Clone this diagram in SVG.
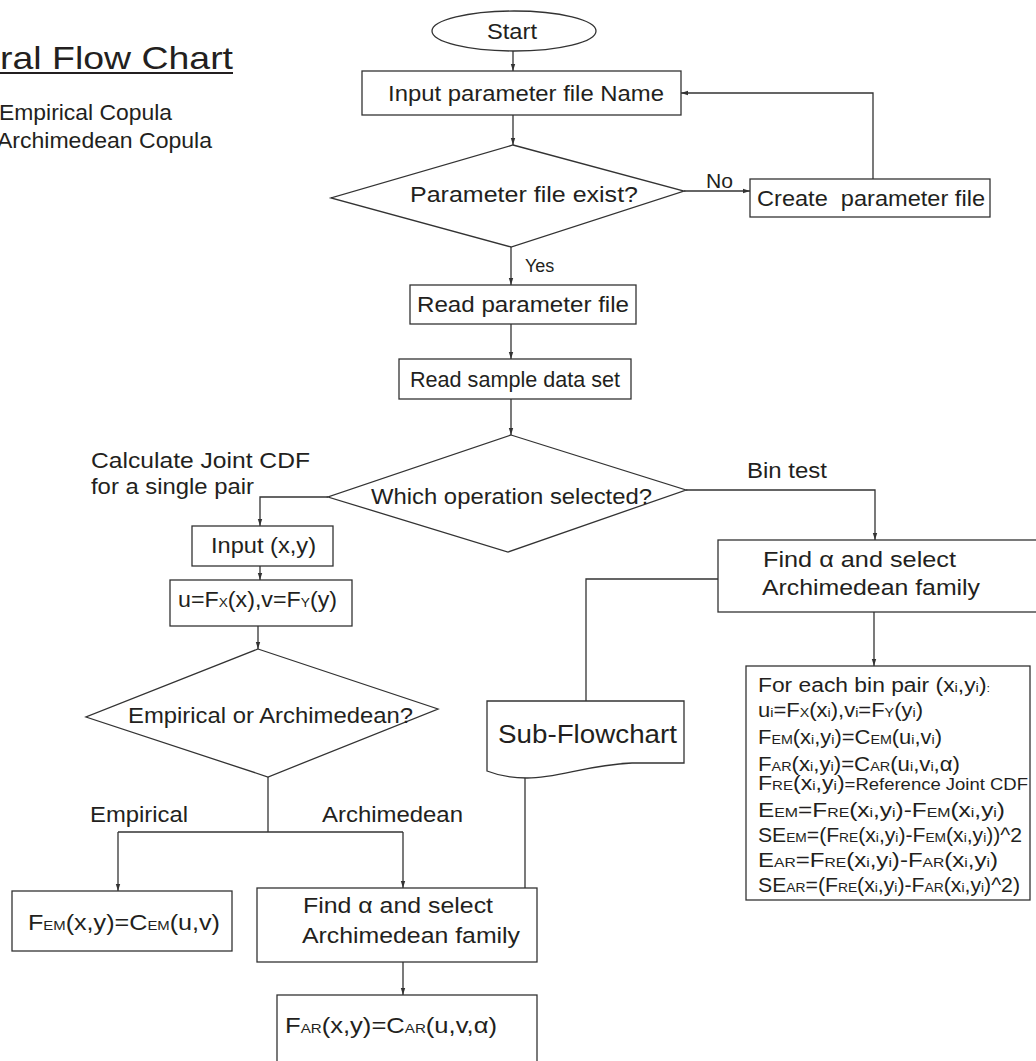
<svg xmlns="http://www.w3.org/2000/svg" width="1036" height="1061" viewBox="0 0 1036 1061">
<style>
text { font-family: "Liberation Sans", Arial, sans-serif; fill: #231f20; }
.t { font-size: 22px; }
.m { font-size: 20px; }
.s { font-size: 13px; }
.shape { fill: #fff; stroke: #333; stroke-width: 1.3; }
.conn { fill: none; stroke: #333; stroke-width: 1.3; }
</style>
<defs>
<marker id="ah" markerUnits="userSpaceOnUse" markerWidth="8" markerHeight="6" refX="7" refY="3" orient="auto"><path d="M0,0.8 L7,3 L0,5.2 z" fill="#333"/></marker>
</defs>
<rect width="1036" height="1061" fill="#fff"/>

<g id="title">
<text x="0" y="69" style="font-size:32px" textLength="233" lengthAdjust="spacingAndGlyphs">ral Flow Chart</text>
<line x1="0" y1="73" x2="233" y2="73" stroke="#231f20" stroke-width="2"/>
<text x="-1" y="120" class="t" textLength="173" lengthAdjust="spacingAndGlyphs">Empirical Copula</text>
<text x="-3" y="148" class="t" textLength="215" lengthAdjust="spacingAndGlyphs">Archimedean Copula</text>
</g>

<g id="connectors">
<path class="conn" d="M513,50 V71" marker-end="url(#ah)"/>
<path class="conn" d="M513,115 V145" marker-end="url(#ah)"/>
<path class="conn" d="M684,191 H750" marker-end="url(#ah)"/>
<path class="conn" d="M873,179 V93 H681" marker-end="url(#ah)"/>
<path class="conn" d="M511,247 V285" marker-end="url(#ah)"/>
<path class="conn" d="M511,324 V359" marker-end="url(#ah)"/>
<path class="conn" d="M511,399 V435" marker-end="url(#ah)"/>
<path class="conn" d="M328,497 H260 V526" marker-end="url(#ah)"/>
<path class="conn" d="M260,566 V580" marker-end="url(#ah)"/>
<path class="conn" d="M258,626 V649" marker-end="url(#ah)"/>
<path class="conn" d="M686,490 H875 V540" marker-end="url(#ah)"/>
<path class="conn" d="M874,612 V666" marker-end="url(#ah)"/>
<path class="conn" d="M718,579 H586 V701"/>
<path class="conn" d="M525,778 V888"/>
<path class="conn" d="M268,777 V832"/>
<path class="conn" d="M118,832 H403"/>
<path class="conn" d="M118,832 V891" marker-end="url(#ah)"/>
<path class="conn" d="M403,832 V888" marker-end="url(#ah)"/>
<path class="conn" d="M403,962 V995" marker-end="url(#ah)"/>
<text x="706" y="188" class="m" textLength="27" lengthAdjust="spacingAndGlyphs">No</text>
<text x="525" y="272" style="font-size:18px">Yes</text>
<text x="91" y="468" class="t" textLength="219" lengthAdjust="spacingAndGlyphs">Calculate Joint CDF</text>
<text x="91" y="494" class="t" textLength="163" lengthAdjust="spacingAndGlyphs">for a single pair</text>
<text x="747" y="478" class="t" textLength="80" lengthAdjust="spacingAndGlyphs">Bin test</text>
<text x="90" y="822" class="t" textLength="98" lengthAdjust="spacingAndGlyphs">Empirical</text>
<text x="322" y="822" class="t" textLength="141" lengthAdjust="spacingAndGlyphs">Archimedean</text>
</g>

<g id="start">
<ellipse class="shape" cx="514" cy="31" rx="82" ry="20"/>
<text x="487" y="39" class="t" textLength="50" lengthAdjust="spacingAndGlyphs">Start</text>
</g>

<g id="input-file">
<rect class="shape" x="362" y="71" width="319" height="44"/>
<text x="388" y="101" class="t" textLength="276" lengthAdjust="spacingAndGlyphs">Input parameter file Name</text>
</g>

<g id="param-exist">
<path class="shape" d="M513,145 L684,191 L511,247 L331,198 Z"/>
<text x="410" y="202" class="t" textLength="228" lengthAdjust="spacingAndGlyphs">Parameter file exist?</text>
</g>

<g id="create-file">
<rect class="shape" x="750" y="179" width="240" height="38"/>
<text x="757" y="206" class="t" textLength="228" lengthAdjust="spacingAndGlyphs">Create&#160; parameter file</text>
</g>

<g id="read-param">
<rect class="shape" x="410" y="285" width="226" height="39"/>
<text x="417" y="312" class="t" textLength="212" lengthAdjust="spacingAndGlyphs">Read parameter file</text>
</g>

<g id="read-sample">
<rect class="shape" x="399" y="359" width="232" height="40"/>
<text x="410" y="387" class="t" textLength="210" lengthAdjust="spacingAndGlyphs">Read sample data set</text>
</g>

<g id="which-op">
<path class="shape" d="M511,435 L686,490 L508,552 L328,497 Z"/>
<text x="371" y="504" class="t" textLength="281" lengthAdjust="spacingAndGlyphs">Which operation selected?</text>
</g>

<g id="input-xy">
<rect class="shape" x="192" y="526" width="141" height="40"/>
<text x="211" y="553" class="t" textLength="105" lengthAdjust="spacingAndGlyphs">Input (x,y)</text>
</g>

<g id="uv">
<rect class="shape" x="170" y="580" width="182" height="46"/>
<text x="178" y="607" class="t" textLength="159" lengthAdjust="spacingAndGlyphs">u=F<tspan class="s">X</tspan>(x),v=F<tspan class="s">Y</tspan>(y)</text>
</g>

<g id="emp-or-arch">
<path class="shape" d="M258,649 L438,709 L268,777 L86,717 Z"/>
<text x="128" y="723" class="t" textLength="285" lengthAdjust="spacingAndGlyphs">Empirical or Archimedean?</text>
</g>

<g id="fem">
<rect class="shape" x="12" y="891" width="220" height="60"/>
<text x="28" y="930" class="t" textLength="192" lengthAdjust="spacingAndGlyphs">F<tspan class="s">EM</tspan>(x,y)=C<tspan class="s">EM</tspan>(u,v)</text>
</g>

<g id="find-alpha-left">
<rect class="shape" x="257" y="888" width="280" height="74"/>
<text x="303" y="913" class="t" textLength="190" lengthAdjust="spacingAndGlyphs">Find α and select</text>
<text x="302" y="943" class="t" textLength="218" lengthAdjust="spacingAndGlyphs">Archimedean family</text>
</g>

<g id="far">
<rect class="shape" x="277" y="995" width="260" height="80"/>
<text x="285" y="1033" class="t" textLength="212" lengthAdjust="spacingAndGlyphs">F<tspan class="s">AR</tspan>(x,y)=C<tspan class="s">AR</tspan>(u,v,α)</text>
</g>

<g id="find-alpha-right">
<rect class="shape" x="718" y="540" width="330" height="72"/>
<text x="763" y="567" class="t" textLength="193" lengthAdjust="spacingAndGlyphs">Find α and select</text>
<text x="762" y="595" class="t" textLength="218" lengthAdjust="spacingAndGlyphs">Archimedean family</text>
</g>

<g id="sub-flowchart">
<path class="shape" d="M487,701 L684,701 L684,763 L632,763 C585,765 560,778 527,778 C510,778 497,775 487,771 Z"/>
<text x="498" y="743" style="font-size:26px" textLength="179" lengthAdjust="spacingAndGlyphs">Sub-Flowchart</text>
</g>

<g id="bin-pair">
<rect class="shape" x="746" y="666" width="284" height="234"/>
<text x="758" y="692" class="m" textLength="232" lengthAdjust="spacingAndGlyphs">For each bin pair (x<tspan class="s">i</tspan>,y<tspan class="s">i</tspan>)<tspan style="font-size:11px">:</tspan></text>
<text x="758" y="717" class="m" textLength="165" lengthAdjust="spacingAndGlyphs">u<tspan class="s">i</tspan>=F<tspan class="s">X</tspan>(x<tspan class="s">i</tspan>),v<tspan class="s">i</tspan>=F<tspan class="s">Y</tspan>(y<tspan class="s">i</tspan>)</text>
<text x="758" y="744" class="m" textLength="184" lengthAdjust="spacingAndGlyphs">F<tspan class="s">EM</tspan>(x<tspan class="s">i</tspan>,y<tspan class="s">i</tspan>)=C<tspan class="s">EM</tspan>(u<tspan class="s">i</tspan>,v<tspan class="s">i</tspan>)</text>
<text x="758" y="771" class="m" textLength="202" lengthAdjust="spacingAndGlyphs">F<tspan class="s">AR</tspan>(x<tspan class="s">i</tspan>,y<tspan class="s">i</tspan>)=C<tspan class="s">AR</tspan>(u<tspan class="s">i</tspan>,v<tspan class="s">i</tspan>,α)</text>
<text x="758" y="790" class="m" textLength="270" lengthAdjust="spacingAndGlyphs">F<tspan class="s">RE</tspan>(x<tspan class="s">i</tspan>,y<tspan class="s">i</tspan>)<tspan style="font-size:16px">=Reference Joint CDF</tspan></text>
<text x="758" y="817" class="m" textLength="247" lengthAdjust="spacingAndGlyphs">E<tspan class="s">EM</tspan>=F<tspan class="s">RE</tspan>(x<tspan class="s">i</tspan>,y<tspan class="s">i</tspan>)-F<tspan class="s">EM</tspan>(x<tspan class="s">i</tspan>,y<tspan class="s">i</tspan>)</text>
<text x="758" y="842" class="m" textLength="264" lengthAdjust="spacingAndGlyphs">SE<tspan class="s">EM</tspan>=(F<tspan class="s">RE</tspan>(x<tspan class="s">i</tspan>,y<tspan class="s">i</tspan>)-F<tspan class="s">EM</tspan>(x<tspan class="s">i</tspan>,y<tspan class="s">i</tspan>))^2</text>
<text x="758" y="867" class="m" textLength="240" lengthAdjust="spacingAndGlyphs">E<tspan class="s">AR</tspan>=F<tspan class="s">RE</tspan>(x<tspan class="s">i</tspan>,y<tspan class="s">i</tspan>)-F<tspan class="s">AR</tspan>(x<tspan class="s">i</tspan>,y<tspan class="s">i</tspan>)</text>
<text x="758" y="892" class="m" textLength="262" lengthAdjust="spacingAndGlyphs">SE<tspan class="s">AR</tspan>=(F<tspan class="s">RE</tspan>(x<tspan class="s">i</tspan>,y<tspan class="s">i</tspan>)-F<tspan class="s">AR</tspan>(x<tspan class="s">i</tspan>,y<tspan class="s">i</tspan>)^2)</text>
</g>
</svg>
